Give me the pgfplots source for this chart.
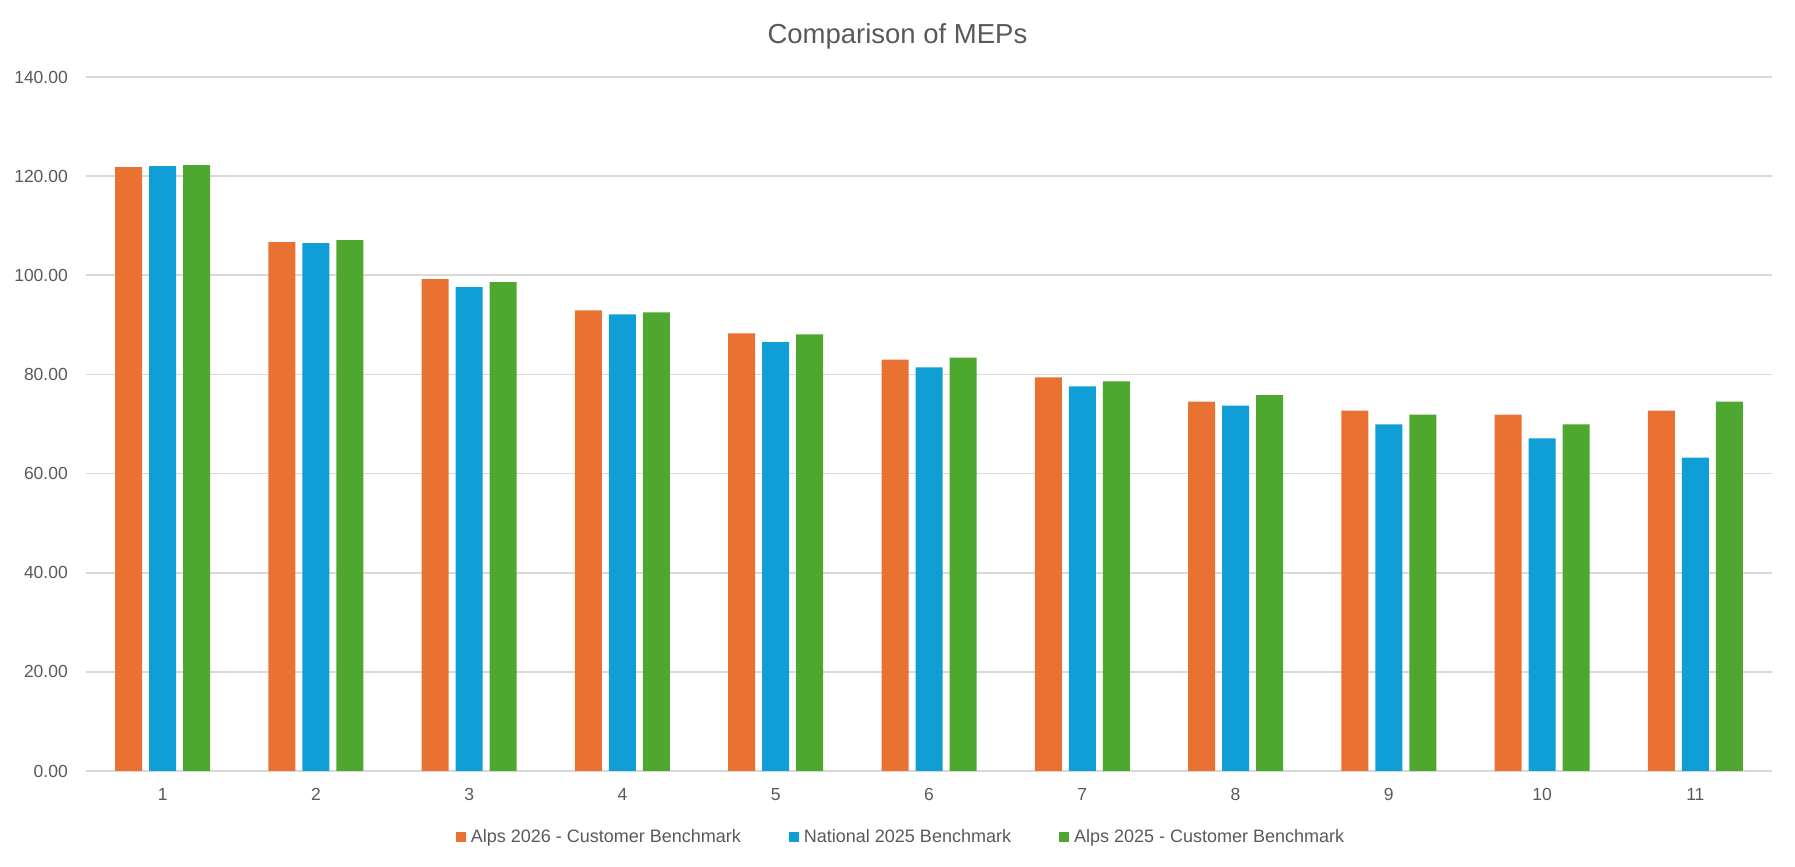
\documentclass[border=0pt]{standalone}
\usepackage{fontspec}
\setmainfont{Liberation Sans}
\usepackage{pgfplots}
\pgfplotsset{compat=1.18}
\usepackage{pgfplotstable}
\definecolor{cOrange}{HTML}{E97132}
\definecolor{cBlue}{HTML}{0F9ED5}
\definecolor{cGreen}{HTML}{4EA72E}
\definecolor{cText}{HTML}{595959}
\definecolor{cGrid}{HTML}{D9D9D9}
\pgfplotstableread{
x a b c
1 121.8 122.0 122.2
2 106.7 106.5 107.1
3 99.2 97.6 98.6
4 92.9 92.1 92.5
5 88.3 86.5 88.1
6 83.0 81.4 83.4
7 79.4 77.6 78.6
8 74.5 73.7 75.8
9 72.7 69.9 71.9
10 71.9 67.1 69.9
11 72.7 63.2 74.5
}\data
\begin{document}
\begin{tikzpicture}
\path[use as bounding box] (0,0) rectangle (1795bp,867bp);
\begin{axis}[
  at={(86bp,96bp)}, anchor=south west,
  scale only axis, width=1686bp, height=694bp,
  ymin=0, ymax=140, xmin=0.5, xmax=11.5,
  ybar=7bp, bar width=27bp,
  ytick={0,20,...,140}, xtick={1,...,11},
  ymajorgrids, grid style={cGrid, line width=1.6bp},
  axis line style={draw=none},
  major tick length=0pt,
  tick style={draw=none},
  /pgf/number format/assume math mode=true,
  yticklabel style={/pgf/number format/fixed, /pgf/number format/fixed zerofill, /pgf/number format/precision=2},
  yticklabel style={inner sep=0pt, xshift=-18bp, anchor=east},
  xticklabel style={inner sep=0pt, yshift=-17bp, anchor=north},
  tick label style={font=\fontsize{17.5bp}{21bp}\selectfont, text=cText},
  title={Comparison of MEPs},
  title style={at={(axis description cs:0.4813,1.050)}, anchor=center, font=\fontsize{27.5bp}{33bp}\selectfont, text=cText},
  legend columns=3,
  legend style={at={(axis description cs:0.4834,-0.0951)}, anchor=center, draw=none, fill=none,
    font=\fontsize{18bp}{21bp}\selectfont, text=cText,
    /tikz/every odd column/.append style={column sep=3bp},
    /tikz/every even column/.append style={column sep=46bp},
    inner xsep=0pt, inner ysep=0pt},
  legend image code/.code={\fill[#1] (0bp,-5bp) rectangle (10bp,5bp);},
]
\addplot[fill=cOrange, draw=none] table[x=x, y=a] {\data};
\addplot[fill=cBlue, draw=none] table[x=x, y=b] {\data};
\addplot[fill=cGreen, draw=none] table[x=x, y=c] {\data};
\legend{Alps 2026 - Customer Benchmark, National 2025 Benchmark, Alps 2025 - Customer Benchmark}
\end{axis}
\end{tikzpicture}
\end{document}
